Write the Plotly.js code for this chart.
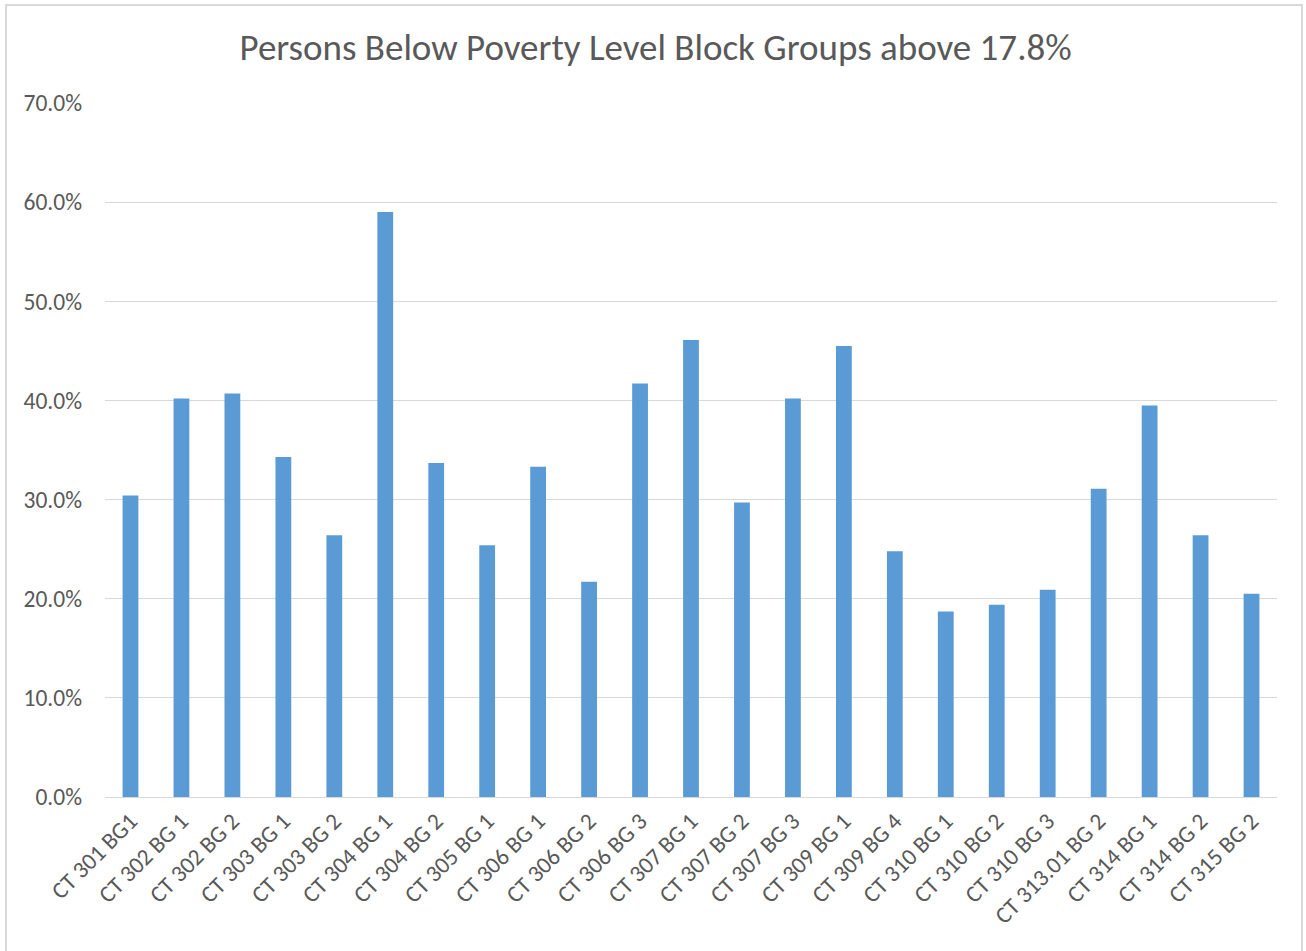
<!DOCTYPE html>
<html><head><meta charset="utf-8">
<script src="https://cdn.plot.ly/plotly-3.0.1.min.js"></script>
<style>
html,body{margin:0;padding:0;background:#fff;overflow:hidden;}
#frame{position:absolute;left:5px;top:4px;width:1298px;height:960px;border:2px solid #d9d9d9;box-sizing:border-box;}
#chart{position:absolute;left:0;top:0;width:1306px;height:951px;}
</style></head>
<body>
<div id="frame"></div>
<div id="chart"></div>
<script>
const categories = ["CT 301 BG1","CT 302 BG 1","CT 302 BG 2","CT 303 BG 1","CT 303 BG 2","CT 304 BG 1","CT 304 BG 2","CT 305 BG 1","CT 306 BG 1","CT 306 BG 2","CT 306 BG 3","CT 307 BG 1","CT 307 BG 2","CT 307 BG 3","CT 309 BG 1","CT 309 BG 4","CT 310 BG 1","CT 310 BG 2","CT 310 BG 3","CT 313.01 BG 2","CT 314 BG 1","CT 314 BG 2","CT 315 BG 2"];
const values = [0.304,0.402,0.407,0.343,0.264,0.590,0.337,0.254,0.333,0.217,0.417,0.461,0.297,0.402,0.455,0.248,0.187,0.194,0.209,0.311,0.395,0.264,0.205];
const tickVals = [0,0.1,0.2,0.3,0.4,0.5,0.6,0.7];
const tickText = ["0.0%","10.0%","20.0%","30.0%","40.0%","50.0%","60.0%","70.0%"];

const font = "Carlito, Calibri, 'Open Sans', sans-serif";
Plotly.newPlot('chart', [{
  type:'bar', x:categories, y:values,
  marker:{color:'#5b9bd5'}, hoverinfo:'x+y'
}], {
  width:1306, height:951,
  paper_bgcolor:'rgba(0,0,0,0)', plot_bgcolor:'rgba(0,0,0,0)',
  margin:{l:105, r:29, t:103, b:154},
  bargap:0.69,
  title:{text:'Persons Below Poverty Level Block Groups above 17.8%', x:0.502, xref:'container', y:0.951, yref:'container', yanchor:'middle', font:{family:font, size:37, color:'#595959'}},
  xaxis:{tickangle:-45, tickfont:{family:font, size:23.5, color:'#595959'}, showgrid:false, showline:true, linecolor:'#d9d9d9', linewidth:1, ticks:'', fixedrange:true, automargin:false},
  yaxis:{range:[0,0.7], tickvals:tickVals, ticktext:tickText, tickfont:{family:font, size:23.5, color:'#595959'}, gridcolor:'#d9d9d9', gridwidth:1, zeroline:false, showline:false, ticks:'', ticklabelstandoff:22, fixedrange:true, automargin:false},
  showlegend:false
}, {displayModeBar:false});
</script>
</body></html>
